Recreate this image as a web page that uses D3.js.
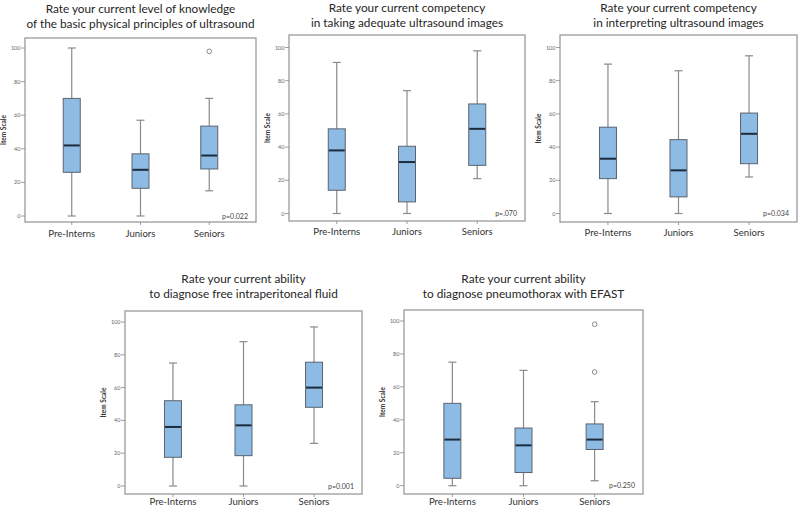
<!DOCTYPE html>
<html>
<head>
<meta charset="utf-8">
<title>Ultrasound self-rating boxplots</title>
<script src="https://d3js.org/d3.v7.min.js"></script>
<style>
  body { margin: 0; background: #fff; }
  svg { display: block; font-family: Lato, "Open Sans", sans-serif; }
  .title { font-size: 11.8px; fill: #262626; text-anchor: middle; }
  .frame { fill: none; stroke: #9a9a9a; stroke-width: 1.3px; }
  .tick-label { font-size: 5.5px; fill: #666; text-anchor: end; }
  .ylab { font-size: 6.5px; font-weight: bold; fill: #333; text-anchor: middle; }
  .xlab { font-size: 9.6px; fill: #333; text-anchor: middle; }
  .pval { font-size: 7px; fill: #444; text-anchor: end; }
  .whisker { stroke: #8a8a8a; stroke-width: 1.2px; }
  .box { fill: #8dbbe3; stroke: #5a6470; stroke-width: 1px; }
  .median { stroke: #1c2c3e; stroke-width: 2px; }
  .outlier { fill: none; stroke: #8a8a8a; stroke-width: 1px; }
</style>
</head>
<body>
<div id="chart"></div>
<script>

// groups
var groups = ["Pre-Interns", "Juniors", "Seniors"];
var yTicks = [0, 20, 40, 60, 80, 100];

// [lower whisker, Q1, median, Q3, upper whisker] per group
var knowledgeStats = [[0, 26, 42, 70, 100], [0, 16.5, 27.5, 37, 57], [15, 28, 36, 53.5, 70]];
var knowledgeOutliers = [[], [], [98]];

var imagesStats = [[0, 14, 38, 51, 91], [0, 7, 31, 40.5, 74], [21, 29, 51, 66, 98]];
var imagesOutliers = [[], [], []];

var interpretStats = [[0, 21, 33, 52, 90], [0, 10, 26, 44.5, 86], [22, 30, 48, 60.5, 95]];
var interpretOutliers = [[], [], []];

var fluidStats = [[0, 17.5, 36, 52, 75], [0, 18.5, 37, 49.5, 88], [26, 48, 60, 75.5, 97]];
var fluidOutliers = [[], [], []];

var pneumoStats = [[0, 4.5, 28, 50, 75], [0, 8, 24.5, 35, 70], [3, 22, 28, 37.5, 51]];
var pneumoOutliers = [[], [], [69, 98]];

var titles = [
  ["Rate your current level of knowledge", "of the basic physical principles of ultrasound"],
  ["Rate your current competency", "in taking adequate ultrasound images"],
  ["Rate your current competency", "in interpreting ultrasound images"],
  ["Rate your current ability", "to diagnose free intraperitoneal fluid"],
  ["Rate your current ability", "to diagnose pneumothorax with EFAST"]
];
var pValues = ["p=0.022", "p=.070", "p=0.034", "p=0.001", "p=0.250"];

var width = 800, height = 509;

// frame box + where 0 and 100 sit, per panel
var panels = [
  {stats: knowledgeStats, outliers: knowledgeOutliers, x0: 25, x1: 256, top: 38, bottom: 222, y0: 216, y100: 48, titleY: 12.5, labY: 236.5},
  {stats: imagesStats, outliers: imagesOutliers, x0: 289, x1: 525, top: 35, bottom: 221, y0: 213.5, y100: 47.5, titleY: 12, labY: 235},
  {stats: interpretStats, outliers: interpretOutliers, x0: 560, x1: 797, top: 35, bottom: 222, y0: 213.5, y100: 47.5, titleY: 12, labY: 236},
  {stats: fluidStats, outliers: fluidOutliers, x0: 125, x1: 362, top: 311, bottom: 494, y0: 486, y100: 322, titleY: 282.5, labY: 505},
  {stats: pneumoStats, outliers: pneumoOutliers, x0: 404, x1: 643, top: 310, bottom: 494, y0: 485.7, y100: 321, titleY: 282.5, labY: 505}
];

var svg = d3.select("#chart").append("svg")
    .attr("width", width)
    .attr("height", height);

panels.forEach(function(p, i) {
  var g = svg.append("g");

  var x = d3.scalePoint().domain(groups).range([p.x0, p.x1]).padding(0.68);
  var y = d3.scaleLinear().domain([0, 100]).range([p.y0, p.y100]);
  var boxW = 17, capW = 8;

  // title
  var cx = (p.x0 + p.x1) / 2;
  g.append("text").attr("class", "title").attr("x", cx).attr("y", p.titleY).text(titles[i][0]);
  g.append("text").attr("class", "title").attr("x", cx).attr("y", p.titleY + 15).text(titles[i][1]);

  // frame
  g.append("rect").attr("class", "frame")
    .attr("x", p.x0).attr("y", p.top)
    .attr("width", p.x1 - p.x0).attr("height", p.bottom - p.top);

  // y axis ticks
  yTicks.forEach(function(t) {
    g.append("line").attr("x1", p.x0 - 4).attr("x2", p.x0)
      .attr("y1", y(t)).attr("y2", y(t))
      .attr("stroke", "#888").attr("stroke-width", 0.8);
    g.append("text").attr("class", "tick-label")
      .attr("x", p.x0 - 4.5).attr("y", y(t) + 2).text(t);
  });
  g.append("text").attr("class", "ylab")
    .attr("transform", "translate(" + (p.x0 - 19) + "," + (p.top + p.bottom) / 2 + ") rotate(-90)")
    .text("Item Scale");

  // x axis ticks + labels
  groups.forEach(function(gr) {
    g.append("line").attr("x1", x(gr)).attr("x2", x(gr))
      .attr("y1", p.bottom).attr("y2", p.bottom + 3)
      .attr("stroke", "#888").attr("stroke-width", 0.8);
    g.append("text").attr("class", "xlab")
      .attr("x", x(gr)).attr("y", p.labY).text(gr);
  });

  // boxes
  p.stats.forEach(function(s, k) {
    var cxk = x(groups[k]);
    g.append("line").attr("class", "whisker")
      .attr("x1", cxk).attr("x2", cxk).attr("y1", y(s[0])).attr("y2", y(s[4]));
    [s[0], s[4]].forEach(function(v) {
      g.append("line").attr("class", "whisker")
        .attr("x1", cxk - capW / 2).attr("x2", cxk + capW / 2)
        .attr("y1", y(v)).attr("y2", y(v));
    });
    g.append("rect").attr("class", "box")
      .attr("x", cxk - boxW / 2).attr("width", boxW)
      .attr("y", y(s[3])).attr("height", y(s[1]) - y(s[3]));
    g.append("line").attr("class", "median")
      .attr("x1", cxk - boxW / 2 + 0.5).attr("x2", cxk + boxW / 2 - 0.5)
      .attr("y1", y(s[2])).attr("y2", y(s[2]));
    p.outliers[k].forEach(function(o) {
      g.append("circle").attr("class", "outlier")
        .attr("cx", cxk).attr("cy", y(o)).attr("r", 2.3);
    });
  });

  // p value
  g.append("text").attr("class", "pval")
    .attr("x", p.x1 - 8).attr("y", p.y0 + 2.5).text(pValues[i]);
});
</script>
</body>
</html>
